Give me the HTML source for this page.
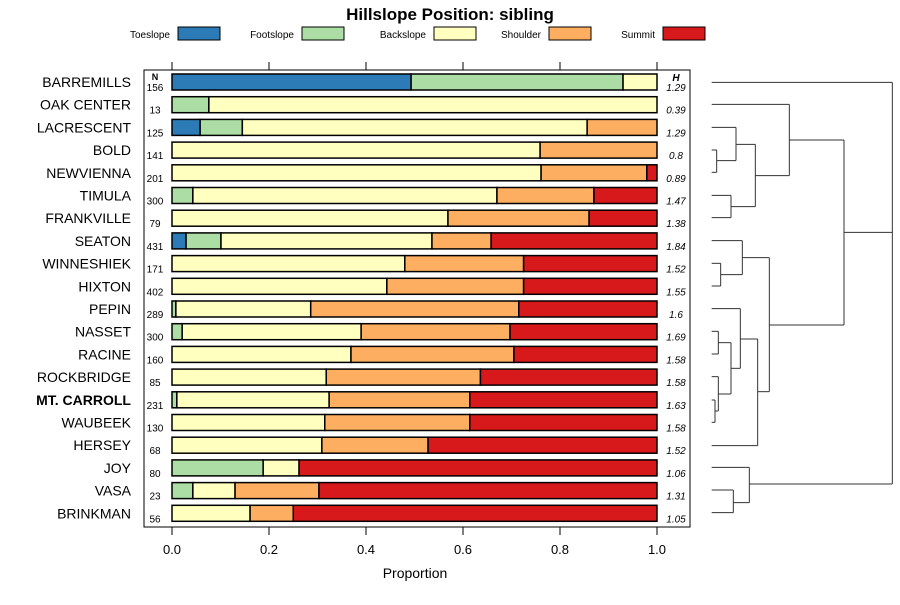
<!DOCTYPE html>
<html><head><meta charset="utf-8"><style>
body{margin:0;background:#fff;font-family:"Liberation Sans",sans-serif}
svg text{font-family:"Liberation Sans",sans-serif}
</style></head><body>
<svg id="c" width="900" height="600" viewBox="0 0 900 600"></svg>
<script>
const sites=["BARREMILLS","OAK CENTER","LACRESCENT","BOLD","NEWVIENNA","TIMULA","FRANKVILLE","SEATON","WINNESHIEK","HIXTON","PEPIN","NASSET","RACINE","ROCKBRIDGE","MT. CARROLL","WAUBEEK","HERSEY","JOY","VASA","BRINKMAN"];
const nVals=[156,13,125,141,201,300,79,431,171,402,289,300,160,85,231,130,68,80,23,56];
const hVals=["1.29","0.39","1.29","0.8","0.89","1.47","1.38","1.84","1.52","1.55","1.6","1.69","1.58","1.58","1.63","1.58","1.52","1.06","1.31","1.05"];
const classes=["Toeslope","Footslope","Backslope","Shoulder","Summit"];
const toe=[0.493,0,0.058,0,0,0,0,0.029,0,0,0,0,0,0,0,0,0,0,0,0];
const foot=[0.437,0.076,0.087,0,0,0.043,0,0.072,0,0,0.008,0.021,0,0,0.01,0,0,0.188,0.043,0];
const back=[0.07,0.924,0.711,0.759,0.761,0.627,0.569,0.435,0.48,0.443,0.278,0.369,0.369,0.318,0.314,0.315,0.309,0.074,0.087,0.161];
const shoulder=[0,0,0.144,0.241,0.218,0.2,0.291,0.122,0.245,0.282,0.429,0.307,0.336,0.318,0.29,0.299,0.219,0,0.173,0.089];
const summit=[0,0,0,0,0.021,0.13,0.14,0.342,0.275,0.275,0.285,0.303,0.295,0.364,0.386,0.386,0.472,0.738,0.697,0.75];
const ticks=[0,0.2,0.4,0.6,0.8,1.0];
const tickLabels=["0.0","0.2","0.4","0.6","0.8","1.0"];
const colors=["#2c7bb6","#abdda4","#ffffbf","#fdae61","#d7191c"];
const series=[toe,foot,back,shoulder,summit];
const svg=document.getElementById('c');const NS="http://www.w3.org/2000/svg";
function el(t,a,txt){const e=document.createElementNS(NS,t);for(const k in a)e.setAttribute(k,a[k]);if(txt!=null)e.textContent=txt;svg.appendChild(e);return e;}
const xs=v=>172+v*485;
const ys=i=>82+i*22.7;
let e;
e=el('text',{x:450,y:20,'text-anchor':'middle','font-size':17,'font-weight':'bold'},'Hillslope Position: sibling');

const legX=[[170,178],[294,302],[426,434],[541,549],[655,663]];
classes.forEach((c,k)=>{
 e=el('text',{x:legX[k][0],y:38,'text-anchor':'end','font-size':10},c);
 
 e=el('rect',{x:legX[k][1],y:27,width:42,height:13,fill:colors[k],stroke:'#000','stroke-width':1});
 
});
e=el('rect',{x:144,y:70,width:546,height:457,fill:'none',stroke:'#000','stroke-width':1});

ticks.forEach((t,k)=>{
 e=el('line',{x1:xs(t),x2:xs(t),y1:62,y2:70,stroke:'#000'});
 
 e=el('line',{x1:xs(t),x2:xs(t),y1:527,y2:535,stroke:'#000'});
 
 e=el('text',{x:xs(t),y:554,'text-anchor':'middle','font-size':13},tickLabels[k]);
 
});
e=el('text',{x:415,y:578,'text-anchor':'middle','font-size':14},'Proportion');

e=el('text',{x:155,y:80,'text-anchor':'middle','font-size':9,'font-weight':'bold'},'N');

e=el('text',{x:676,y:81,'text-anchor':'middle','font-size':10,'font-weight':'bold','font-style':'italic'},'H');

sites.forEach((s,i)=>{
 const y=ys(i);
 e=el('text',{x:131,y:y+5,'text-anchor':'end','font-size':14,'font-weight':s==="MT. CARROLL"?'bold':'normal'},s);
 
 e=el('text',{x:155,y:y+9,'text-anchor':'middle','font-size':10},nVals[i]);
 
 e=el('text',{x:676,y:y+9,'text-anchor':'middle','font-size':10,'font-style':'italic'},hVals[i]);
 
 let acc=0;
 series.forEach((arr,k)=>{
  const v=arr[i];if(v<=0)return;
  e=el('rect',{x:xs(acc),y:y-8,width:v*485,height:16,fill:colors[k],stroke:'#000','stroke-width':1.5});
  
  acc+=v;
 });
});
// dendrogram segments in zoom coords (x=700+zx/3, y=60+zy/3)
const seg=[[35,67,577,67],[577,67,577,1272],[148,1272,577,1272],[432,517,577,517],
[35,133,268,133],[268,133,268,347],[166,347,268,347],[268,240,432,240],[432,240,432,795],
[166,253,166,440],[108,253,166,253],[93,440,166,440],[108,202,108,302],[35,202,108,202],[50,302,108,302],
[50,270,50,337],[35,270,50,270],[35,337,50,337],[93,406,93,473],[35,406,93,406],[35,473,93,473],
[208,795,432,795],[208,593,208,995],[127,593,208,593],[127,542,127,644],[35,542,127,542],[62,644,127,644],
[62,610,62,678],[35,610,62,610],[35,678,62,678],[173,995,208,995],[173,837,173,1157],[35,1157,173,1157],
[121,837,173,837],[121,746,121,925],[35,746,121,746],[93,925,121,925],[93,848,93,1002],[55,848,93,848],
[55,814,55,882],[35,814,55,814],[35,882,55,882],[55,1002,93,1002],[55,950,55,1053],[35,950,55,950],
[45,1053,55,1053],[45,1020,45,1087],[35,1020,45,1020],[35,1087,45,1087],
[148,1222,148,1328],[35,1222,148,1222],[100,1328,148,1328],[100,1290,100,1358],[35,1290,100,1290],[35,1358,100,1358]];
const g=document.createElementNS(NS,'g');svg.appendChild(g);
seg.forEach(s=>{const l=document.createElementNS(NS,'line');
 l.setAttribute('x1',700+s[0]/3);l.setAttribute('y1',60+s[1]/3);l.setAttribute('x2',700+s[2]/3);l.setAttribute('y2',60+s[3]/3);
 l.setAttribute('stroke','#333');l.setAttribute('stroke-width','1');
 
 
 g.appendChild(l);});
</script>
</body></html>
